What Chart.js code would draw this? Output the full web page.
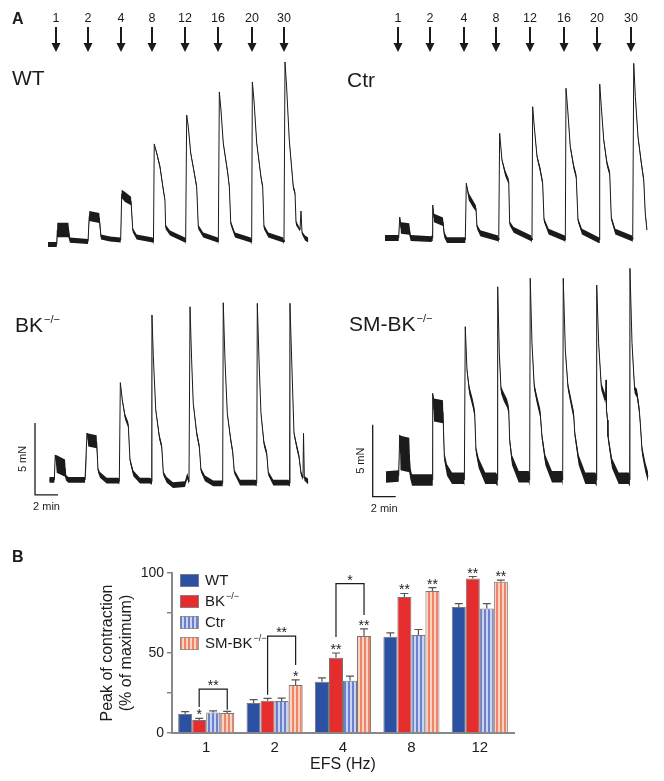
<!DOCTYPE html>
<html>
<head>
<meta charset="utf-8">
<script src="https://cdn.jsdelivr.net/npm/chart.js@4.4.1/dist/chart.umd.min.js"></script>
<style>
  body { margin: 0; background: #fff; }
  #page { position: relative; width: 664px; height: 781px; overflow: hidden; font-family: "Liberation Sans", Arial, sans-serif; color: #1b1b1b; }
  canvas { position: absolute; }
  .lab { position: absolute; line-height: 1; white-space: nowrap; }
  .big { font-size: 21px; }
  .panel { font-size: 16px; font-weight: bold; }
  .sup { font-size: 11px; position: relative; top: -9px; margin-left: 1px; }
</style>
</head>
<body>
<div id="page">
  <canvas id="wt"></canvas>
  <canvas id="ctr"></canvas>
  <canvas id="bk"></canvas>
  <canvas id="smbk"></canvas>
  <canvas id="bars"></canvas>
  <div class="lab panel" style="left:12px;top:11px">A</div>
  <div class="lab big" style="left:12px;top:67px">WT</div>
  <div class="lab big" style="left:347px;top:69px">Ctr</div>
  <div class="lab big" style="left:15px;top:314px">BK<span class="sup">−/−</span></div>
  <div class="lab big" style="left:349px;top:313px">SM-BK<span class="sup">−/−</span></div>
  <div class="lab panel" style="left:12px;top:549px">B</div>
</div>
<script>
// ---- Panel A: EFS frequencies and stimulus times (min) ----
const stimHz = [1, 2, 4, 8, 12, 16, 20, 30];
const stimLeft = [0.67, 3.5, 6.35, 9.04, 11.91, 14.81, 17.77, 20.52];
const stimRight = [1.13, 3.89, 6.84, 9.65, 12.63, 15.54, 18.43, 21.42];

// trace samples: [time (min), force (mN), noise band (mN)]
const wtTrace = [
  [0.0,-0.1,0.35],[0.76,-0.1,0.35],[0.81,0.9,1.0],[1.77,0.9,1.0],[1.91,0.2,0.35],[3.48,0.1,0.35],
  [3.59,1.88,0.7],[4.46,1.74,0.7],[4.61,0.42,0.35],[5.39,0.28,0.35],[6.32,0.21,0.35],
  [6.41,3.4,0.6],[6.7,3.19,0.7],[7.22,2.92,0.6],[7.37,0.9,0.3],[7.71,0.42,0.35],[9.1,0.21,0.35],
  [9.17,0.07,0.35],[9.24,6.88,0],[9.45,6.25,0.2],[9.74,5.28,0.3],[10.03,3.68,0.3],[10.17,2.99,0.2],
  [10.23,1.11,0.3],[10.61,0.69,0.35],[11.91,0.21,0.35],
  [11.97,0.07,0.35],[12.06,8.89,0],[12.2,8.06,0.1],[12.41,6.25,0.2],[12.78,4.58,0.3],[12.93,3.89,0.3],
  [13.07,1.11,0.3],[13.5,0.56,0.35],[14.76,0.21,0.35],
  [14.81,0.07,0.35],[14.9,10.49,0],[15.04,9.24,0.1],[15.24,6.94,0.2],[15.63,4.86,0.3],[15.77,3.89,0.3],
  [15.89,1.39,0.3],[16.26,0.56,0.35],[17.63,0.21,0.35],
  [17.71,0.07,0.35],[17.77,11.18,0],[17.91,9.93,0.1],[18.15,6.94,0.2],[18.52,4.58,0.3],[18.67,3.89,0.3],
  [18.78,1.11,0.3],[19.16,0.56,0.35],[20.46,0.21,0.35],
  [20.52,0.07,0.35],[20.61,12.57,0],[20.75,10.83,0.1],[20.98,7.15,0.2],[21.33,3.89,0.3],[21.48,3.47,0.3],
  [21.57,1.39,0.3],[21.91,0.9,0.2],[22.0,2.22,0],[22.09,0.69,0.2],[22.35,0.35,0.35],[22.63,0.21,0.35]
];
const ctrTrace = [
  [0,0,0.4],[1.19,0,0.4],[1.28,1.46,0],[1.39,0.69,0.8],[2.11,0.63,0.8],[2.23,0,0.4],[4.03,-0.07,0.4],
  [4.09,0,0.4],[4.15,2.29,0],[4.26,1.39,0.6],[5.04,1.13,0.6],[5.16,0.21,0.4],[5.39,-0.14,0.4],[6.93,-0.14,0.4],
  [6.98,-0.14,0.4],[7.07,3.8,0],[7.28,2.87,0.5],[7.71,2.29,0.5],[7.91,2.06,0.4],[8.0,0.78,0.3],[8.29,0.33,0.4],[9.83,-0.02,0.4],
  [9.89,-0.14,0.4],[9.97,7.27,0],[10.17,5.42,0.2],[10.46,4.49,0.4],[10.76,3.91,0.4],[10.84,1.02,0.3],[11.19,0.56,0.4],[12.72,-0.02,0.4],
  [12.78,-0.14,0.4],[12.84,9.12,0],[12.98,7.73,0.1],[13.22,5.65,0.3],[13.5,4.72,0.4],[13.71,3.8,0.4],[13.83,1.25,0.3],[14.23,0.44,0.4],[15.63,-0.02,0.4],
  [15.68,-0.14,0.4],[15.74,10.4,0],[15.89,8.89,0.1],[16.11,6.34,0.3],[16.41,4.95,0.4],[16.63,4.26,0.4],[16.78,1.25,0.3],[17.13,0.44,0.4],[18.58,-0.14,0.4],
  [18.63,-0.14,0.4],[18.67,10.69,0],[18.81,9.12,0.1],[19.02,6.81,0.3],[19.3,5.19,0.4],[19.54,4.49,0.4],[19.68,1.37,0.3],[20.03,0.44,0.4],[21.48,-0.02,0.4],
  [21.54,-0.09,0.4],[21.63,12.13,0],[21.77,9.81,0.1],[22.0,7.03,0.3],[22.29,5.19,0.4],[22.5,4.03,0.4],[22.63,1.72,0.3],[22.78,0.56,0.3]
];
const bkTrace = [
  [0.11,0.07,0.4],[0.55,0.07,0.4],[0.63,1.81,0],[0.76,1.18,1.2],[1.48,0.9,1.2],[1.57,0.21,0.4],[1.77,0.07,0.4],[3.22,0.07,0.4],
  [3.3,0.07,0.4],[3.39,3.33,0],[3.5,2.85,0.9],[4.23,2.73,0.9],[4.35,0.76,0.3],[4.52,0.42,0.4],[5.1,0.02,0.4],[6.11,0.02,0.4],
  [6.2,-0.05,0.4],[6.29,6.83,0],[6.46,5.63,0.2],[6.7,4.47,0.4],[6.98,3.89,0.4],[7.13,1.46,0.3],[7.42,0.53,0.4],[8.0,0.02,0.4],[8.87,0.02,0.4],
  [8.98,-0.05,0.4],[9.04,11.53,0],[9.16,8.63,0.1],[9.37,4.93,0.2],[9.68,3.08,0.4],[9.89,2.38,0.4],[10.03,0.53,0.3],[10.32,0.07,0.4],
  [10.87,-0.28,0.4],[11.91,-0.21,0.4],[12.11,0.35,0.4],
  [12.26,-0.05,0.4],[12.35,12.1,0],[12.49,8.4,0.1],[12.63,5.4,0.2],[12.93,3.31,0.4],[13.16,2.38,0.4],[13.3,0.76,0.3],[13.65,0.19,0.4],
  [14.37,-0.16,0.4],[15.1,-0.16,0.4],
  [15.19,-0.16,0.4],[15.24,12.38,0],[15.39,8.4,0.1],[15.59,4.7,0.2],[15.89,2.85,0.4],[16.06,2.03,0.4],[16.2,0.65,0.3],[16.7,-0.12,0.4],[18.0,-0.12,0.4],
  [18.15,-0.16,0.4],[18.2,12.34,0],[18.35,8.4,0.1],[18.52,4.7,0.2],[18.78,2.62,0.4],[19.02,1.92,0.4],[19.16,0.53,0.3],[19.59,-0.12,0.4],[20.9,-0.12,0.4],
  [20.96,-0.16,0.4],[21.04,12.34,0],[21.19,8.4,0.1],[21.39,3.31,0.3],[21.63,2.38,0.4],[21.83,1.69,0.4],[22.0,0.53,0.3],
  [22.17,0.21,0.3],[22.22,3.31,0],[22.29,0.19,0.3],[22.63,-0.05,0.4]
];
const smbkTrace = [
  [0.09,0.07,0.8],[1.19,0.14,0.8],[1.28,2.99,0],[1.35,1.74,2.4],[2.11,1.6,2.4],[2.2,0.33,0.8],[2.35,-0.14,0.8],[4.03,-0.14,0.8],
  [4.09,-0.14,0.8],[4.15,5.88,0],[4.26,4.72,1.6],[5.04,4.6,1.6],[5.16,1.48,0.6],[5.39,0.56,0.8],[5.83,-0.02,0.8],[6.84,-0.02,0.8],
  [6.9,-0.14,0.8],[6.98,10.51,0],[7.13,7.5,0.3],[7.33,6.11,0.6],[7.63,5.19,0.6],[7.8,4.49,0.6],[7.91,1.94,0.5],[8.15,1.02,0.7],[8.72,-0.02,0.8],[9.65,-0.02,0.8],
  [9.74,-0.14,0.8],[9.8,13.28,0],[9.94,8.66,0.2],[10.09,6.11,0.5],[10.32,5.65,0.6],[10.61,5.19,0.6],[10.76,4.72,0.6],[10.84,2.64,0.5],[11.04,1.25,0.7],
  [11.63,0.09,0.8],[12.5,0.09,0.8],
  [12.58,-0.14,0.8],[12.63,13.87,0],[12.78,9.35,0.2],[12.98,6.34,0.5],[13.22,5.42,0.6],[13.5,4.49,0.6],[13.65,2.87,0.5],[13.94,1.25,0.7],
  [14.52,0.09,0.8],[15.39,0.09,0.8],
  [15.45,-0.14,0.8],[15.5,13.87,0],[15.68,8.89,0.2],[15.91,6.34,0.5],[16.2,5.19,0.6],[16.41,4.38,0.6],[16.5,3.1,0.5],[16.84,1.25,0.7],
  [17.42,-0.02,0.8],[18.29,-0.02,0.8],
  [18.35,-0.14,0.8],[18.41,13.4,0],[18.58,9.35,0.2],[18.81,6.34,0.5],[19.1,5.65,0.6],[19.17,5.42,0.5],[19.22,6.81,0],[19.26,4.72,0.5],
  [19.35,4.03,0.6],[19.39,2.87,0.5],[19.74,1.02,0.7],[20.32,-0.02,0.8],[21.19,-0.02,0.8],
  [21.24,-0.14,0.8],[21.3,14.56,0],[21.48,9.35,0.2],[21.71,6.11,0.5],[21.91,5.88,0.6],[22.11,4.72,0.6],[22.2,3.8,0.5],
  [22.35,1.94,0.6],[22.63,0.78,0.7],[22.87,0.09,0.7]
];
// scale bars: corner (min, mN) and lengths
const scaleBarBK = { t: -1.13, f: -0.97, dt: 2, df: 5 };
const scaleBarSM = { t: -1.07, f: -1.3, dt: 2, df: 5 };

// ---- Panel B: peak of contraction (% of maximum) ----
const freqLabels = ['1', '2', '4', '8', '12'];
const groupNames = ['WT', 'BK', 'Ctr', 'SM-BK'];
const groupSup = ['', '−/−', '', '−/−'];
const wtMean = [11.8, 18.7, 32.1, 60.1, 78.8];
const wtErr = [1.6, 2.2, 2.3, 2.5, 2.0];
const bkMean = [8.1, 20.1, 47.0, 85.0, 96.5];
const bkErr = [1.0, 1.5, 3.0, 2.2, 1.3];
const ctrMean = [12.8, 20.0, 32.6, 61.2, 77.8];
const ctrErr = [1.0, 1.8, 3.0, 3.5, 3.0];
const smMean = [12.5, 30.0, 60.6, 88.8, 94.6];
const smErr = [1.0, 3.2, 4.5, 2.1, 1.0];
const bkStars = ['*', '', '**', '**', '**'];
const smStars = ['', '*', '**', '**', '**'];
// brackets between BK-/- and SM-BK-/- bars: group, top, left leg end, right leg end (% of max)
const sigBrackets = [
  { group: 0, top: 27.4, left: 16.2, right: 14.5, mark: '**' },
  { group: 1, top: 60.5, left: 23.9, right: 42.5, mark: '**' },
  { group: 2, top: 93.4, left: 60, right: 73.7, mark: '*' }
];

const PX_PER_MIN = 11.5;  // 2 min bar = 23 px
const PX_PER_MN = 14.4;   // 5 mN bar = 72 px
const FONT = '"Liberation Sans", Arial, sans-serif';
const INK = '#1b1b1b';
Chart.defaults.font.family = FONT;
Chart.defaults.color = INK;

function traceMarks(stim, bar) {
  return {
    id: 'traceMarks',
    afterDraw(chart) {
      const ctx = chart.ctx, X = chart.scales.x, Y = chart.scales.y;
      ctx.save();
      ctx.fillStyle = INK;
      ctx.strokeStyle = INK;
      if (stim) {
        ctx.font = '12.5px ' + FONT;
        ctx.textAlign = 'center';
        ctx.textBaseline = 'alphabetic';
        stim.forEach((t, i) => {
          const x = Math.round(X.getPixelForValue(t));
          ctx.fillText(String(stimHz[i]), x, 22);
          ctx.fillRect(x - 1, 27, 2, 17);
          ctx.beginPath();
          ctx.moveTo(x - 4.5, 43); ctx.lineTo(x + 4.5, 43); ctx.lineTo(x, 52);
          ctx.closePath(); ctx.fill();
        });
      }
      if (bar) {
        const x0 = X.getPixelForValue(bar.t), x1 = X.getPixelForValue(bar.t + bar.dt);
        const y0 = Y.getPixelForValue(bar.f), y1 = Y.getPixelForValue(bar.f + bar.df);
        ctx.lineWidth = 1.3;
        ctx.beginPath();
        ctx.moveTo(x0, y1); ctx.lineTo(x0, y0); ctx.lineTo(x1, y0);
        ctx.stroke();
        ctx.font = '11px ' + FONT;
        ctx.textAlign = 'center';
        ctx.textBaseline = 'middle';
        ctx.fillText(bar.dt + ' min', (x0 + x1) / 2, y0 + 12);
        ctx.translate(x0 - 12, (y0 + y1) / 2);
        ctx.rotate(-Math.PI / 2);
        ctx.fillText(bar.df + ' mN', 0, 0);
      }
      ctx.restore();
    }
  };
}

function traceChart(id, box, zero, samples, stim, bar) {
  const cv = document.getElementById(id);
  cv.width = box.w; cv.height = box.h;
  cv.style.left = box.x + 'px'; cv.style.top = box.y + 'px';
  // noise envelope (upper/lower) filled black, plus the trace line itself
  const upper = samples.map(s => ({ x: s[0], y: s[1] + s[2] / 2 }));
  const lower = samples.map(s => ({ x: s[0], y: s[1] - s[2] / 2 }));
  const line = samples.map(s => ({ x: s[0], y: s[1] }));
  return new Chart(cv, {
    type: 'line',
    data: { datasets: [
      { data: upper, borderWidth: 0, pointRadius: 0, fill: false },
      { data: lower, borderWidth: 0, pointRadius: 0, fill: '-1', backgroundColor: INK },
      { data: line, borderColor: INK, borderWidth: 1, pointRadius: 0, fill: false }
    ] },
    options: {
      animation: false, responsive: false, events: [],
      layout: { padding: 0 },
      elements: { line: { tension: 0 } },
      scales: {
        x: { type: 'linear', display: false,
             min: (box.x - zero.x) / PX_PER_MIN, max: (box.x + box.w - zero.x) / PX_PER_MIN },
        y: { display: false,
             min: (zero.y - box.y - box.h) / PX_PER_MN, max: (zero.y - box.y) / PX_PER_MN }
      },
      plugins: { legend: { display: false }, tooltip: { enabled: false } }
    },
    plugins: [traceMarks(stim, bar)]
  });
}

traceChart('wt', { x: 0, y: 0, w: 332, h: 255 }, { x: 48, y: 243 }, wtTrace, stimLeft, null);
traceChart('ctr', { x: 332, y: 0, w: 332, h: 255 }, { x: 385, y: 238 }, ctrTrace, stimRight, null);
traceChart('bk', { x: 0, y: 255, w: 332, h: 265 }, { x: 48, y: 481 }, bkTrace, null, scaleBarBK);
traceChart('smbk', { x: 332, y: 255, w: 332, h: 265 }, { x: 385, y: 478 }, smbkTrace, null, scaleBarSM);

// ---- bar chart ----
function stripes(dark, light) {
  const p = document.createElement('canvas');
  p.width = 4; p.height = 4;
  const c = p.getContext('2d');
  c.fillStyle = light; c.fillRect(0, 0, 4, 4);
  c.fillStyle = dark; c.fillRect(0, 0, 2, 4);
  return c.createPattern(p, 'repeat');
}

const barMeans = [wtMean, bkMean, ctrMean, smMean];
const barErrs = [wtErr, bkErr, ctrErr, smErr];
const barStars = [[], bkStars, [], smStars];

const barMarks = {
  id: 'barMarks',
  afterDatasetsDraw(chart) {
    const ctx = chart.ctx, Y = chart.scales.y, area = chart.chartArea;
    ctx.save();
    ctx.font = '14px ' + FONT;
    ctx.textAlign = 'center';
    ctx.textBaseline = 'alphabetic';
    // error bars + stars
    barErrs.forEach((errs, d) => {
      chart.getDatasetMeta(d).data.forEach((bar, i) => {
        const top = Y.getPixelForValue(barMeans[d][i] + errs[i]);
        ctx.strokeStyle = '#555'; ctx.lineWidth = 1.2;
        ctx.beginPath();
        ctx.moveTo(bar.x, bar.y); ctx.lineTo(bar.x, top);
        ctx.moveTo(bar.x - 4, top); ctx.lineTo(bar.x + 4, top);
        ctx.stroke();
        const s = barStars[d][i];
        if (s) { ctx.fillStyle = INK; ctx.fillText(s, bar.x, top + 1); }
      });
    });
    // brackets
    const bkBars = chart.getDatasetMeta(1).data, smBars = chart.getDatasetMeta(3).data;
    ctx.strokeStyle = INK; ctx.lineWidth = 1.2;
    sigBrackets.forEach(b => {
      const xl = bkBars[b.group].x, xr = smBars[b.group].x, yt = Y.getPixelForValue(b.top);
      ctx.beginPath();
      ctx.moveTo(xl, Y.getPixelForValue(b.left)); ctx.lineTo(xl, yt);
      ctx.lineTo(xr, yt); ctx.lineTo(xr, Y.getPixelForValue(b.right));
      ctx.stroke();
      ctx.fillStyle = INK;
      ctx.fillText(b.mark, (xl + xr) / 2, yt + 1);
    });
    // legend
    chart.data.datasets.forEach((ds, i) => {
      const bx = area.left + 8, by = area.top + 1 + i * 21;
      ctx.fillStyle = ds.backgroundColor;
      ctx.fillRect(bx, by, 19, 13);
      ctx.strokeStyle = '#888'; ctx.lineWidth = 0.8;
      ctx.strokeRect(bx + 0.5, by + 0.5, 18, 12);
      ctx.fillStyle = INK;
      ctx.textAlign = 'left'; ctx.textBaseline = 'middle';
      ctx.font = '15px ' + FONT;
      ctx.fillText(groupNames[i], bx + 25, by + 7);
      if (groupSup[i]) {
        const w = ctx.measureText(groupNames[i]).width;
        ctx.font = '9px ' + FONT;
        ctx.fillText(groupSup[i], bx + 26 + w, by + 2);
      }
    });
    ctx.restore();
  }
};

const bc = document.getElementById('bars');
bc.width = 480; bc.height = 231;
bc.style.left = '60px'; bc.style.top = '550px';
new Chart(bc, {
  type: 'bar',
  data: {
    labels: freqLabels,
    datasets: [
      { label: 'WT', data: wtMean, backgroundColor: '#2c50a2' },
      { label: 'BK-/-', data: bkMean, backgroundColor: '#e52d2d' },
      { label: 'Ctr', data: ctrMean, backgroundColor: stripes('#6d80cc', '#cbd3f2') },
      { label: 'SM-BK-/-', data: smMean, backgroundColor: stripes('#ee8468', '#fdd2c2') }
    ]
  },
  options: {
    animation: false, responsive: false, events: [],
    layout: { padding: { top: 23, right: 26, left: 0, bottom: 0 } },
    datasets: { bar: { categoryPercentage: 0.82, barPercentage: 1, borderColor: '#777', borderWidth: 1 } },
    scales: {
      x: {
        grid: { display: false, drawTicks: false },
        border: { color: '#888', width: 2 },
        ticks: { font: { size: 15 }, padding: 6 },
        title: { display: true, text: 'EFS (Hz)', font: { size: 16 }, padding: { top: 0, bottom: 7 } },
        afterFit: s => { s.height = 48; }
      },
      y: {
        min: 0, max: 100,
        ticks: { stepSize: 25, font: { size: 14 }, padding: 3, callback: v => (v % 50 === 0 ? v : '') },
        grid: { drawOnChartArea: false, color: '#888', tickLength: 5, lineWidth: 1.5 },
        border: { color: '#888', width: 2 },
        title: { display: true, text: ['Peak of contraction', '(% of maximum)'], font: { size: 16 }, padding: { top: 38 } },
        afterFit: s => { s.width = 112; }
      }
    },
    plugins: { legend: { display: false }, tooltip: { enabled: false } }
  },
  plugins: [barMarks]
});
</script>
</body>
</html>
